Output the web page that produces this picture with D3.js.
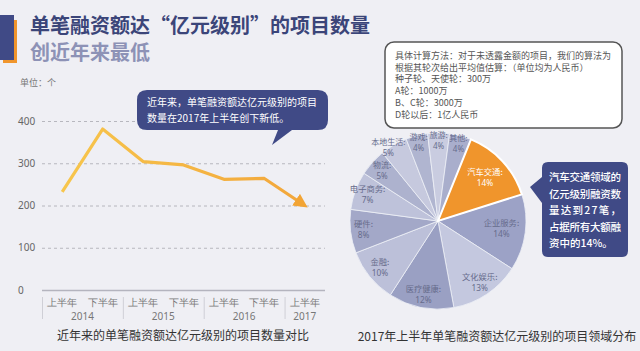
<!DOCTYPE html>
<html><head><meta charset="utf-8">
<script src="https://cdn.jsdelivr.net/npm/d3@7"></script>
<style>
html,body{margin:0;padding:0;background:#efeff4;overflow:hidden;}
svg{display:block;font-family:"Noto Sans CJK SC","Noto Sans",sans-serif;}
</style></head><body>
<svg id="c" width="640" height="351"></svg>
<script>
// ---- data ----
const periods = ["2014H1","2014H2","2015H1","2015H2","2016H1","2016H2","2017H1"];
const halfLabels = ["上半年","下半年","上半年","下半年","上半年","下半年","上半年"];
const periodYear = ["2014","2014","2015","2015","2016","2016","2017"];
const years = ["2014","2015","2016","2017"];
const counts = [232, 381, 304, 296, 262, 264, 200];
const yTicks = [0, 100, 200, 300, 400];
const sectors = ["汽车交通","企业服务","文化娱乐","医疗健康","金融","硬件","电子商务","物流","本地生活","游戏","旅游","其他"];
const shares = [14, 14, 13, 12, 10, 8, 7, 5, 5, 4, 4, 4];
const titleLine1 = "单笔融资额达“亿元级别”的项目数量";
const titleLine2 = "创近年来最低";
const unitLabel = "单位：个";
const lineCallout = ["近年来，单笔融资额达亿元级别的项目", "数量在2017年上半年创下新低。"];
const noteLines = ["具体计算方法：对于未透露金额的项目，我们的算法为","根据其轮次给出平均值估算：（单位均为人民币）","种子轮、天使轮：300万","A轮：1000万","B、C轮：3000万","D轮以后：1亿人民币"];
const pieCallout = ["汽车交通领域的","亿元级别融资数","量达到27笔，","占据所有大额融","资中的14%。"];
const lineCaption = "近年来的单笔融资额达亿元级别的项目数量对比";
const pieCaption = "2017年上半年单笔融资额达亿元级别的项目领域分布";

// ---- styles ----
const navy = "#404a86";
const orange = "#f0952c";
const greyColors = ["#9ca2c6","#c4c8df","#9aa0c3","#bcc0d9","#a3a8c8","#bec2da","#adb2ce","#c6c9de","#b0b5d0","#c9cce0","#a9aecc"];

const svg = d3.select("#c");
svg.append("rect").attr("width",640).attr("height",351).attr("fill","#efeff4");

const defs = svg.append("defs");
const grad = defs.append("linearGradient").attr("id","lg").attr("gradientUnits","userSpaceOnUse")
  .attr("x1",60).attr("x2",310).attr("y1",0).attr("y2",0);
grad.append("stop").attr("offset","0%").attr("stop-color","#f7c64c");
grad.append("stop").attr("offset","100%").attr("stop-color","#f2a53a");
defs.append("marker").attr("id","arr").attr("markerUnits","userSpaceOnUse")
  .attr("viewBox","0 0 12 12").attr("refX",9).attr("refY",6)
  .attr("markerWidth",14).attr("markerHeight",14).attr("orient","auto")
  .append("path").attr("d","M0,0 L12,6 L0,12 Z").attr("fill","#f2a434");

// header decoration
svg.append("rect").attr("x",3).attr("y",20).attr("width",14).attr("height",43).attr("fill",orange);
svg.append("rect").attr("x",0).attr("y",15).attr("width",14).attr("height",45).attr("fill",navy);
svg.append("text").attr("x",30).attr("y",33).attr("font-size",20).attr("font-weight",700).attr("fill","#3b4579").text(titleLine1);
svg.append("text").attr("x",30).attr("y",60).attr("font-size",20).attr("font-weight",700).attr("fill","#8d92b6").text(titleLine2);

// ---- line chart ----
const x = d3.scaleBand().domain(periods).range([42, 325]);
const y = d3.scaleLinear().domain([0, 400]).range([290, 121]);

svg.append("text").attr("x",20).attr("y",86).attr("font-size",9).attr("fill","#777").text(unitLabel);

const yAxis = svg.append("g").attr("transform","translate(42,0)")
  .call(d3.axisLeft(y).tickValues(yTicks).tickSize(-283).tickFormat(d3.format("d")));
yAxis.select(".domain").remove();
yAxis.selectAll(".tick line").attr("stroke","#a8a8b0").attr("stroke-dasharray","3,3").attr("stroke-width",0.8);
yAxis.selectAll(".tick").filter(d=>d===0).select("line").attr("stroke","#b4b4be").attr("stroke-dasharray",null).attr("stroke-width",1.6);
yAxis.selectAll(".tick text").attr("x",-24).attr("text-anchor","start").attr("font-size",10).attr("fill","#666").attr("font-family","'Noto Sans',sans-serif");

const xAxis = svg.append("g").attr("transform","translate(0,291)")
  .call(d3.axisBottom(x).tickSize(0).tickFormat((d,i)=>halfLabels[i]));
xAxis.select(".domain").remove();
xAxis.selectAll(".tick text").attr("dy",0).attr("y",15).attr("font-size",9.5).attr("fill","#777");

// year groups
years.forEach(yr=>{
  const ps = periods.filter((p,i)=>periodYear[i]===yr);
  const cx = d3.mean(ps, p=>x(p)+x.bandwidth()/2);
  svg.append("text").attr("x",cx).attr("y",320).attr("text-anchor","middle").attr("font-size",10).attr("fill","#777")
    .attr("font-family","'Noto Sans',sans-serif").text(yr);
  const x0 = x(ps[0]);
  svg.append("line").attr("x1",x0+0.5).attr("x2",x0+0.5).attr("y1",297).attr("y2",319).attr("stroke","#cfcfd6").attr("stroke-width",1);
});

svg.append("path").datum(counts)
  .attr("d", d3.line().x((d,i)=>x(periods[i])+x.bandwidth()/2).y(d=>y(d)))
  .attr("fill","none").attr("stroke","url(#lg)").attr("stroke-width",3.2).attr("stroke-linejoin","round")
  .attr("marker-end","url(#arr)");

// line callout
svg.append("path").attr("d","M147,90 H318 Q328,90 328,100 V120 Q328,130 318,130 H292 L272,145 L278,130 H147 Q137,130 137,120 V100 Q137,90 147,90 Z").attr("fill",navy);
lineCallout.forEach((t,i)=>svg.append("text").attr("x",147).attr("y",106+i*15.5).attr("font-size",10).attr("fill","#fff").text(t));

svg.append("text").attr("x",183).attr("y",340).attr("text-anchor","middle").attr("font-size",12).attr("fill","#333").text(lineCaption);

// ---- note box ----
svg.append("rect").attr("x",385).attr("y",42).attr("width",237).attr("height",86).attr("rx",9)
  .attr("fill","#fff").attr("stroke","#555").attr("stroke-width",1.5);
noteLines.forEach((t,i)=>svg.append("text").attr("x",395).attr("y",59+i*11.7).attr("font-size",9).attr("fill","#555").text(t));

// ---- pie ----
const cx = 438, cy = 221, R = 88;
const a0 = 22*Math.PI/180;
const pie = d3.pie().sort(null).value(d=>d).startAngle(a0).endAngle(a0+2*Math.PI);
const arcs = pie(shares);
const arc = d3.arc().innerRadius(0).outerRadius(R);
const pg = svg.append("g").attr("transform",`translate(${cx},${cy})`);
pg.selectAll("path.s").data(arcs).join("path").attr("class","s")
  .attr("d",arc).attr("fill",(d,i)=>i===0?orange:greyColors[i-1])
  .attr("stroke","#eef0f6").attr("stroke-width",0.8);
pg.append("path").attr("d",arc(arcs[0])).attr("fill",orange).attr("stroke","#fff").attr("stroke-width",2);
pg.selectAll("g.l").data(arcs).join("g").attr("class","l").each(function(d,i){
  const share = shares[i];
  const r = i<2 ? 64 : (share<=4 ? 80 : (share===5 ? 75 : 75));
  const c = d3.arc().innerRadius(r).outerRadius(r).centroid(d);
  if (sectors[i] === "本地生活") { c[0] -= 12; c[1] -= 8; }
  const col = i===0 ? "#fff" : "#676c8c";
  const fs = share<=5 ? 8 : 8.3;
  const t = d3.select(this).append("text").attr("transform",`translate(${c[0]},${c[1]})`)
    .attr("text-anchor","middle").attr("font-size",fs).attr("fill",col);
  t.append("tspan").attr("x",0).attr("y",-3).text(sectors[i]+":");
  t.append("tspan").attr("x",0).attr("y",8).attr("font-family","'Noto Sans',sans-serif").text(shares[i]+"%");
});

// pie callout
svg.append("path").attr("d","M548,162 H622 Q628,162 628,168 V251 Q628,257 622,257 H548 Q542,257 542,251 V203 L530,187 L542,177 V168 Q542,162 548,162 Z").attr("fill",navy);
pieCallout.forEach((t,i)=>{
  const tx = svg.append("text").attr("x",549).attr("y",181+i*16.5).attr("font-size",10.5).attr("font-weight",500).attr("fill","#fff").text(t);
  if(i<4) tx.attr("textLength",72).attr("lengthAdjust","spacing");
});

svg.append("text").attr("x",497).attr("y",341).attr("text-anchor","middle").attr("font-size",12).attr("fill","#333").text(pieCaption);
</script>
</body></html>
